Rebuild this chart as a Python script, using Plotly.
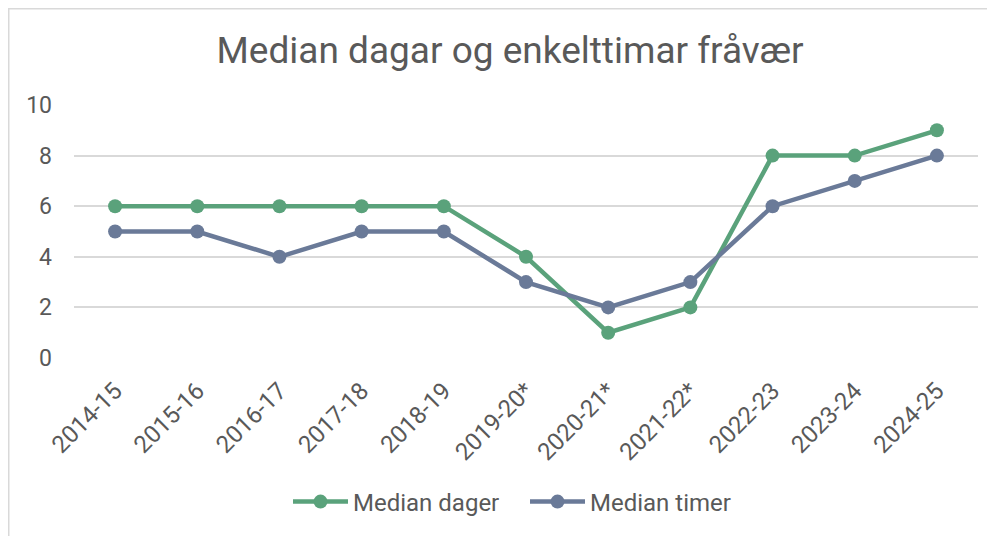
import plotly.graph_objects as go

categories = ["2014-15", "2015-16", "2016-17", "2017-18", "2018-19", "2019-20*",
              "2020-21*", "2021-22*", "2022-23", "2023-24", "2024-25"]
median_dager = [6, 6, 6, 6, 6, 4, 1, 2, 8, 8, 9]
median_timer = [5, 5, 4, 5, 5, 3, 2, 3, 6, 7, 8]
y_ticks = [0, 2, 4, 6, 8, 10]

GREEN = "#5aa27b"
BLUE = "#6a7a98"
TEXT = "#595959"

W, H = 987, 528
ML, MR, MT, MB = 66, 17, 97, 178
PW, PH = W - ML - MR, H - MT - MB

fig = go.Figure()
fig.add_trace(go.Scatter(x=categories, y=median_dager, name="Median dager",
                         mode="lines+markers",
                         line=dict(color=GREEN, width=4.5),
                         marker=dict(color=GREEN, size=14)))
fig.add_trace(go.Scatter(x=categories, y=median_timer, name="Median timer",
                         mode="lines+markers",
                         line=dict(color=BLUE, width=4.5),
                         marker=dict(color=BLUE, size=14)))

fig.update_layout(
    width=W, height=H,
    margin=dict(l=ML, r=MR, t=MT, b=MB),
    paper_bgcolor="white", plot_bgcolor="white",
    font=dict(family="Roboto", color=TEXT, size=18),
    title=dict(text="Median dagar og enkelttimar fråvær", x=502 / W, xanchor="center",
               y=1 - 42 / H, yanchor="middle", font=dict(size=37, color=TEXT)),
    showlegend=True,
    legend=dict(orientation="h", x=(280 - ML) / PW, xanchor="left",
                y=(PH - (494 - MT)) / PH, yanchor="middle",
                font=dict(size=24, color=TEXT), itemwidth=55,
                entrywidth=167, entrywidthmode="pixels"),
    xaxis=dict(showgrid=False, showline=False, ticks="", tickangle=-45,
               tickfont=dict(size=24, color=TEXT), range=[-0.5, 10.5],
               ticklabelstandoff=13),
    yaxis=dict(range=[0, 10], tickvals=y_ticks, showgrid=True, gridcolor="#d9d9d9",
               gridwidth=1.5, zeroline=False, showline=False, ticks="",
               tickfont=dict(size=23, color=TEXT), ticklabelstandoff=21),
)
fig.add_shape(type="rect", xref="paper", yref="paper",
              x0=(0.75 - ML) / PW, x1=1.1, y0=-0.9, y1=1 + (MT - 0.75) / PH,
              line=dict(color="#d9d9d9", width=1.5), fillcolor="rgba(0,0,0,0)",
              layer="below")

fig.write_html("out.html")
